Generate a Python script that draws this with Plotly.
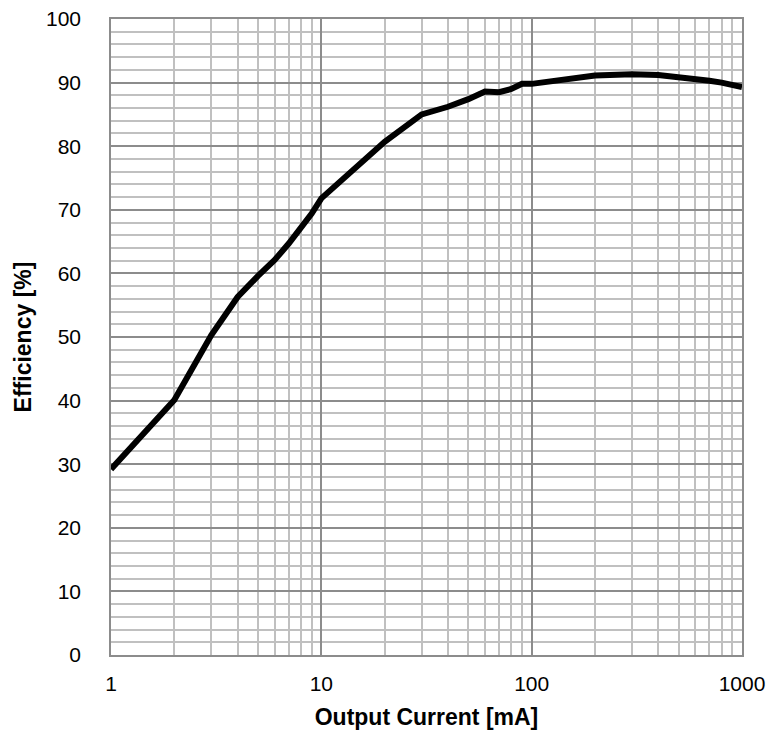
import plotly.graph_objects as go

current_ma = [1, 2, 3, 4, 5, 6, 7, 8, 9, 10, 20, 30, 40, 50, 60, 70, 80, 90, 100,
              200, 300, 400, 500, 600, 700, 800, 900, 1000]
efficiency = [29.2, 40.1, 50.3, 56.3, 59.6, 62.1, 64.7, 67.1, 69.4, 71.8, 80.7, 85.0, 86.2, 87.4,
              88.6, 88.5, 89.0, 89.8, 89.8, 91.1, 91.3, 91.2, 90.9, 90.6, 90.3, 90.0, 89.7, 89.3]

x_ticks = [1, 10, 100, 1000]
x_tick_labels = ["1", "10", "100", "1000"]
y_ticks = [0, 10, 20, 30, 40, 50, 60, 70, 80, 90, 100]

FONT = "Liberation Sans, Arial, sans-serif"
MAJOR = "#8c8c8c"
MINOR = "#c0c0c0"

fig = go.Figure()
fig.add_trace(go.Scatter(x=current_ma, y=efficiency, mode="lines",
                         line=dict(color="black", width=6), showlegend=False))

fig.update_layout(
    width=771, height=734,
    margin=dict(l=111, r=29, t=19, b=79),
    plot_bgcolor="white", paper_bgcolor="white",
    font=dict(family=FONT, size=21, color="black"),
)
fig.update_xaxes(
    type="log", range=[0, 3], automargin=False,
    tickvals=x_ticks, ticktext=x_tick_labels,
    showgrid=True, gridcolor=MAJOR, gridwidth=1.5,
    minor=dict(showgrid=True, gridcolor=MINOR, gridwidth=1.5, dtick="D1"),
    showline=True, linecolor=MAJOR, linewidth=1.5, mirror=True,
    ticks="", ticklabelstandoff=9,
    zeroline=False,
    title=dict(text="<b>Output Current [mA]</b>", font=dict(size=23), standoff=15),
)
fig.update_yaxes(
    range=[0, 100], tickvals=y_ticks, automargin=False,
    showgrid=True, gridcolor=MAJOR, gridwidth=1.5,
    minor=dict(showgrid=True, gridcolor=MINOR, gridwidth=1.5, dtick=2),
    showline=True, linecolor=MAJOR, linewidth=1.5, mirror=True,
    ticks="", ticklabelstandoff=24,
    zeroline=False,
    title=dict(text="<b>Efficiency [%]</b>", font=dict(size=23), standoff=8),
)

fig.write_html("out.html", config={"displayModeBar": False},
               post_script="document.body.style.margin='0';")
